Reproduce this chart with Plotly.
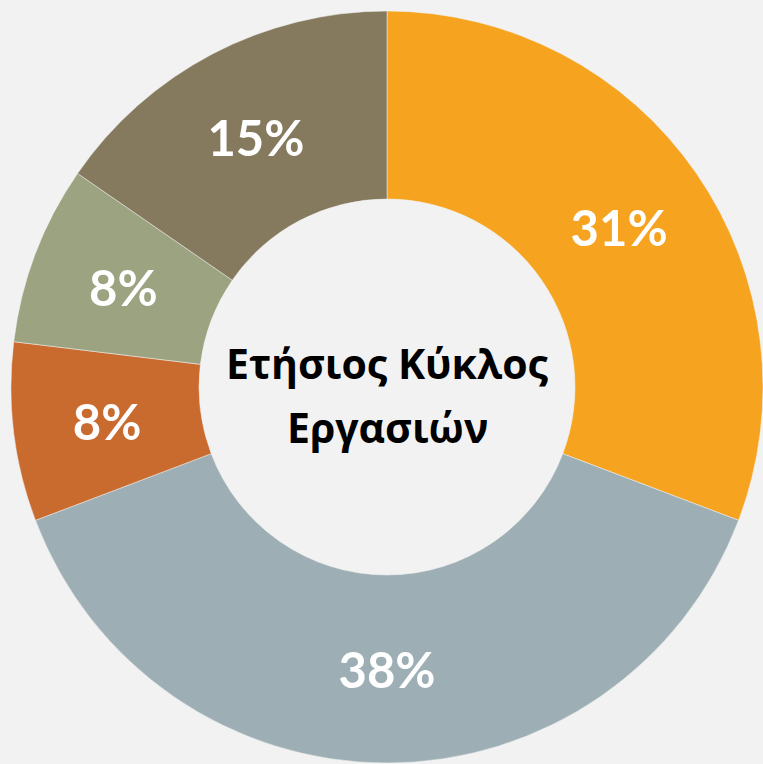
import math
import plotly.graph_objects as go

categories = ["A", "B", "C", "D", "E"]
values = [4, 5, 1, 1, 2]
colors = ["#F6A31F", "#9DAFB4", "#C96A2F", "#9CA381", "#857A5E"]
center_lines = ["Ετήσιος Κύκλος", "Εργασιών"]

W, H = 763, 764
CX, CY, R = 387, 387, 376   # pie centre (px from left/top) and outer radius
HOLE = 0.5
LABEL_FONT = dict(family="Lato", size=49, color="white", weight="bold")

total = sum(values)
fracs = [v / total for v in values]
ring_mid = R * (1 + HOLE) / 2


def inscribed(f):
    s = math.sin(math.pi * f)
    return s / (1 + s)


# slices whose label plotly would push outward get their label from a second, transparent pie
small = [inscribed(f) < (1 - HOLE) / 2 for f in fracs]
small_fracs = [f for f, s in zip(fracs, small) if s]
R2 = ring_mid / (1 - inscribed(min(small_fracs))) if small_fracs else R


def dom(r):
    return dict(x=[(CX - r) / W, (CX + r) / W], y=[(H - CY - r) / H, (H - CY + r) / H])


fig = go.Figure()
fig.add_trace(go.Pie(
    labels=categories,
    values=values,
    sort=False,
    direction="clockwise",
    rotation=0,
    hole=HOLE,
    marker=dict(colors=colors, line=dict(color="#F2F2F2", width=0.5)),
    texttemplate=["" if s else "%{percent:.0%}" for s in small],
    textposition="inside",
    insidetextorientation="horizontal",
    textfont=LABEL_FONT,
    showlegend=False,
    hoverinfo="skip",
    domain=dom(R),
))
fig.add_trace(go.Pie(
    labels=categories,
    values=values,
    sort=False,
    direction="clockwise",
    rotation=0,
    hole=0,
    marker=dict(colors=["rgba(0,0,0,0)"] * len(values), line=dict(width=0)),
    texttemplate=["%{percent:.0%}" if s else "" for s in small],
    textposition="inside",
    insidetextorientation="horizontal",
    textfont=LABEL_FONT,
    showlegend=False,
    hoverinfo="skip",
    domain=dom(R2),
))

fig.add_annotation(text=center_lines[0], x=CX / W, y=1 - 363 / H, xref="paper", yref="paper",
                   showarrow=False, font=dict(family="Open Sans", size=41, color="black", weight="bold"))
fig.add_annotation(text=center_lines[1], x=CX / W, y=1 - 427 / H, xref="paper", yref="paper",
                   showarrow=False, font=dict(family="Open Sans", size=41, color="black", weight="bold"))

fig.update_layout(
    width=W, height=H,
    margin=dict(l=0, r=0, t=0, b=0),
    paper_bgcolor="#F2F2F2",
    plot_bgcolor="#F2F2F2",
)
fig.write_html(
    "out.html",
    config={"displayModeBar": False},
    post_script="document.body.style.margin='0';document.body.style.overflow='hidden';",
)
